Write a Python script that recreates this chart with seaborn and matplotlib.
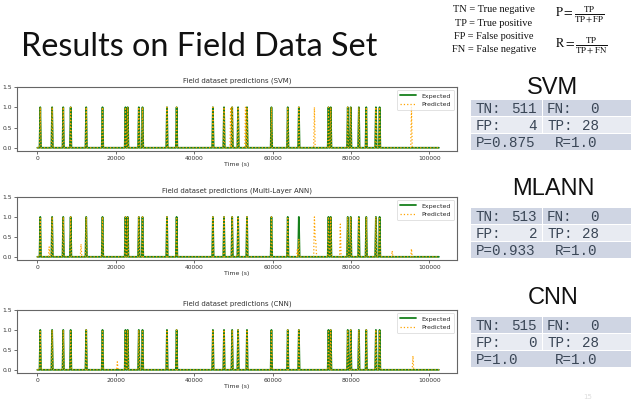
import numpy as np
import pandas as pd
import matplotlib
matplotlib.use("Agg")
import matplotlib.pyplot as plt
import seaborn as sns
from matplotlib.patches import Rectangle

# sampling of the field data (543 samples = TN+FN+FP+TP)
n_samples = 543
dt = 189.0

# times (s) of the expected events
expected_times = [850, 3825, 6545, 8500, 12410, 16660, 22440, 23120, 25840, 26860,
                  33065, 35615, 44710, 47600, 49640, 51170, 53465, 59755, 63920, 66810,
                  74205, 74885, 79135, 79900, 81940, 84000, 86445, 87380]

# extra predictions (not expected) per model: times and values
svm_extra_t = [49300, 53160, 70700, 95530]
svm_extra_v = [1.0, 1.0, 1.0, 1.0]
ann_extra_t = [3100, 11200, 66300, 66700, 70700, 70900, 71100, 77300, 90600, 95500]
ann_extra_v = [0.25, 0.32, 0.2, 0.45, 1.0, 0.5, 0.35, 0.82, 0.15, 0.2]
cnn_extra_t = [20400, 95800]
cnn_extra_v = [0.2, 0.35]

titles = ["Field dataset predictions (SVM)",
          "Field dataset predictions (Multi-Layer ANN)",
          "Field dataset predictions (CNN)"]
models = ["SVM", "MLANN", "CNN"]
tn = [511, 513, 515]
fn = [0, 0, 0]
fp = [4, 2, 0]
tp = [28, 28, 28]
prec = ["0.875", "0.933", "1.0"]
rec = ["1.0", "1.0", "1.0"]

legend_lines = ["TN = True negative", "TP = True positive",
                "FP = False positive", "FN = False negative"]

t = np.arange(n_samples) * dt
expected = np.zeros(n_samples)
expected[np.rint(np.array(expected_times) / dt).astype(int)] = 1.0


def predicted_series(extra_t, extra_v):
    p = expected.copy()
    idx = np.rint(np.array(extra_t) / dt).astype(int)
    p[idx] = extra_v
    return p


preds = [predicted_series(svm_extra_t, svm_extra_v),
         predicted_series(ann_extra_t, ann_extra_v),
         predicted_series(cnn_extra_t, cnn_extra_v)]

sns.set_style("ticks")
plt.rcParams["font.family"] = ["DejaVu Sans"]
plt.rcParams["mathtext.fontset"] = "stix"

W, H = 637, 419
fig = plt.figure(figsize=(6.37, 4.19), dpi=100)

# axes boxes in pixels: (left, top, right, bottom)
boxes = [(17, 87, 457, 151), (17, 197, 457, 260), (17, 310, 457, 373)]

for i, (l, tp_, r, b) in enumerate(boxes):
    ax = fig.add_axes([l / W, 1 - b / H, (r - l) / W, (b - tp_) / H])
    df = pd.DataFrame({"Time (s)": t, "Expected": expected, "Predicted": preds[i]})
    sns.lineplot(data=df, x="Time (s)", y="Expected", ax=ax, color="#17801c",
                 linewidth=1.3, label="Expected")
    sns.lineplot(data=df, x="Time (s)", y="Predicted", ax=ax, color="orange",
                 linewidth=0.9, linestyle=":", label="Predicted")
    ax.set_xlim(-5180, 107060)
    ax.set_ylim(-0.08, 1.5)
    ax.set_yticks([0.0, 0.5, 1.0, 1.5])
    ax.set_xticks([0, 20000, 40000, 60000, 80000, 100000])
    ax.set_ylabel("")
    ax.set_xlabel("Time (s)", fontsize=4.5, labelpad=1, color="#333333")
    ax.set_title(titles[i], fontsize=5, pad=3, color="#333333")
    ax.tick_params(labelsize=4.3, length=2, width=0.5, pad=1.5, colors="#333333")
    for s in ax.spines.values():
        s.set_linewidth(0.8)
        s.set_color("#666666")
        s.set_visible(True)
    leg = ax.legend(loc="upper right", fontsize=4.5, handlelength=2.6,
                    borderpad=0.5, labelspacing=0.5, frameon=True)
    leg.get_frame().set_linewidth(0.5)
    leg.get_frame().set_edgecolor("#cccccc")

# overlay for slide text and tables, in pixel coordinates
deco = fig.add_axes([0, 0, 1, 1], zorder=-1)
deco.set_xlim(0, W)
deco.set_ylim(H, 0)
deco.axis("off")

deco.text(21, 47, "Results on Field Data Set", fontsize=23.3, family="Lato",
          va="center", ha="left", color="#111111")

for k, line in enumerate(legend_lines):
    deco.text(494, 10 + k * 13.3, line, fontsize=7.5, family="Liberation Serif",
              ha="center", va="center", color="#111111")
deco.text(555, 15, r"$\mathrm{P} = \frac{\mathrm{TP}}{\mathrm{TP+FP}}$", fontsize=9,
          ha="left", va="center", color="#111111")
deco.text(555, 46, r"$\mathrm{R} = \frac{\mathrm{TP}}{\mathrm{TP+FN}}$", fontsize=9,
          ha="left", va="center", color="#111111")

dark = "#cfd5e3"
light = "#e8ebf2"
txt = "#3a4656"
header_y = [88, 189, 298]
table_top = [100, 208, 317]
rh = 17.0
x0, xs, x1 = 471, 542, 631
for m in range(3):
    deco.text(553, header_y[m], models[m], fontsize=17, family="Liberation Sans",
              ha="center", va="center", color="#111111")
    y = table_top[m]
    # row 1 and 2: two cells, row 3 merged
    for rr, col in enumerate([dark, light]):
        deco.add_patch(Rectangle((x0, y + rr * rh), xs - x0 - 0.5, rh - 0.8,
                                 facecolor=col, edgecolor="none"))
        deco.add_patch(Rectangle((xs + 0.5, y + rr * rh), x1 - xs - 0.5, rh - 0.8,
                                 facecolor=col, edgecolor="none"))
    deco.add_patch(Rectangle((x0, y + 2 * rh), x1 - x0, rh - 0.8,
                             facecolor=dark, edgecolor="none"))
    kw = dict(fontsize=10.3, family="Liberation Mono", va="center", color=txt)
    deco.text(476, y + 0.5 * rh, "TN:", ha="left", **kw)
    deco.text(537, y + 0.5 * rh, f"{tn[m]}", ha="right", **kw)
    deco.text(547, y + 0.5 * rh, "FN:", ha="left", **kw)
    deco.text(599, y + 0.5 * rh, f"{fn[m]}", ha="right", **kw)
    deco.text(476, y + 1.5 * rh, "FP:", ha="left", **kw)
    deco.text(537, y + 1.5 * rh, f"{fp[m]}", ha="right", **kw)
    deco.text(547, y + 1.5 * rh, "TP:", ha="left", **kw)
    deco.text(599, y + 1.5 * rh, f"{tp[m]}", ha="right", **kw)
    deco.text(476, y + 2.5 * rh, f"P={prec[m]}", ha="left", **kw)
    deco.text(555, y + 2.5 * rh, f"R={rec[m]}", ha="left", **kw)

deco.text(588, 397, "15", fontsize=5, color="#dddddd", ha="center", va="center")

fig.savefig("out.png", dpi=100)
